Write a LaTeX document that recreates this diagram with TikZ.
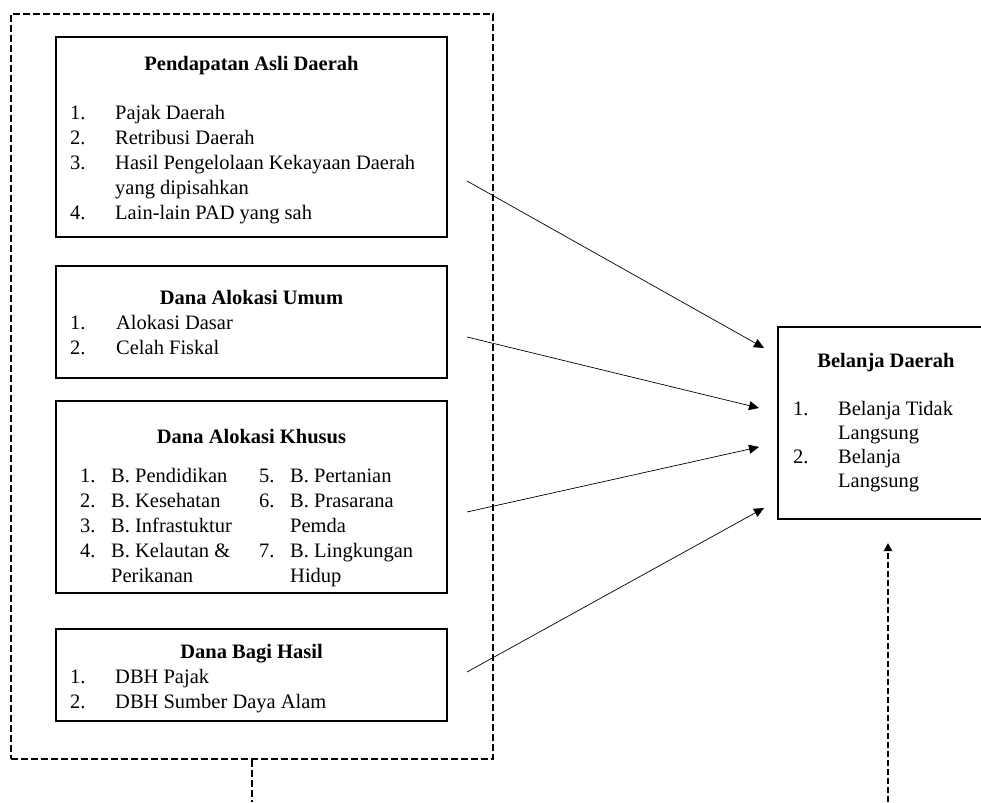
\documentclass[tikz,border=0pt]{standalone}
\usepackage{fontspec}
\setmainfont{Liberation Serif}
\usetikzlibrary{arrows.meta,positioning}
\tikzset{
  box/.style={draw,line width=1.6pt,inner sep=0pt},
  grp/.style={draw,line width=2.2pt,dash pattern={on 7pt off 3pt},inner sep=0pt},
  arr/.style={line width=0.7pt,-{Triangle[length=10pt,width=9pt]}},
  dasharr/.style={line width=2.2pt,dash pattern={on 6pt off 3pt},-{Triangle[length=8pt,width=8pt]}},
  ttl/.style={anchor=base,inner sep=0pt,font=\fontsize{20.5}{25}\selectfont\bfseries},
  lst/.style={anchor=base west,inner sep=0pt,font=\fontsize{20.5}{25}\selectfont}
}

\begin{document}
\begin{tikzpicture}[x=1pt,y=-1pt]
  \useasboundingbox (0,0) rectangle (981,802);

  % sumber pendapatan
  \node[grp,minimum width=482pt,minimum height=745pt] (grp) at (252,386.5) {};
  \node[box,minimum width=391pt,minimum height=200pt] (pad) at (251.5,137) {};
  \node[box,minimum width=391pt,minimum height=112pt] (dau) at (251.5,322) {};
  \node[box,minimum width=391pt,minimum height=192pt] (dak) at (251.5,497) {};
  \node[box,minimum width=391pt,minimum height=92pt] (dbh) at (251.5,675) {};
  \node[box,minimum width=208pt,minimum height=192pt] (bd) at (882,423) {};

  \node[ttl] (padttl) at (251.5,71) {Pendapatan Asli Daerah};
  \node[lst] (padlst) at (70,120) {\begin{tabular}[t]{@{}p{45pt}@{}l@{}}
    1. & Pajak Daerah\\
    2. & Retribusi Daerah\\
    3. & Hasil Pengelolaan Kekayaan Daerah\\
       & yang dipisahkan\\
    4. & Lain-lain PAD yang sah
  \end{tabular}};

  \node[ttl] (dauttl) at (251.5,304) {Dana Alokasi Umum};
  \node[lst] (daulst) at (70,329) {\begin{tabular}[t]{@{}p{46pt}@{}l@{}}
    1. & Alokasi Dasar\\
    2. & Celah Fiskal
  \end{tabular}};

  \node[ttl] (dakttl) at (251.5,443) {Dana Alokasi Khusus};
  \node[lst] (daklst) at (80,482) {\begin{tabular}[t]{@{}p{31pt}@{}p{148pt}@{}p{31pt}@{}l@{}}
    1. & B. Pendidikan & 5. & B. Pertanian\\
    2. & B. Kesehatan & 6. & B. Prasarana\\
    3. & B. Infrastuktur & & Pemda\\
    4. & B. Kelautan \& & 7. & B. Lingkungan\\
       & Perikanan & & Hidup
  \end{tabular}};

  \node[ttl] (dbhttl) at (251.5,658) {Dana Bagi Hasil};
  \node[lst] (dbhlst) at (70,683) {\begin{tabular}[t]{@{}p{45pt}@{}l@{}}
    1. & DBH Pajak\\
    2. & DBH Sumber Daya Alam
  \end{tabular}};

  \node[ttl] (bdttl) at (886,367) {Belanja Daerah};
  \node[lst,font=\fontsize{20.5}{24}\selectfont] (bdlst) at (793,415) {\begin{tabular}[t]{@{}p{45pt}@{}l@{}}
    1. & Belanja Tidak\\
       & Langsung\\
    2. & Belanja\\
       & Langsung
  \end{tabular}};

  % panah
  \coordinate (s1) at (467,181);
  \coordinate (s2) at (467,337);
  \coordinate (s3) at (467,512);
  \coordinate (s4) at (467,672);
  \coordinate (e1) at (764,348);
  \coordinate (e2) at (759,408);
  \coordinate (e3) at (759,447);
  \coordinate (e4) at (764,508);
  \foreach \i in {1,...,4}
    \draw[arr] (s\i) -- (e\i);

  \coordinate (stub) at (252,802);
  \draw[grp] (grp.south) -- (stub);
  \coordinate (upfoot) at (888,802);
  \coordinate (uptip) at (888,543);
  \draw[dasharr] (upfoot) -- (uptip);
\end{tikzpicture}
\end{document}
